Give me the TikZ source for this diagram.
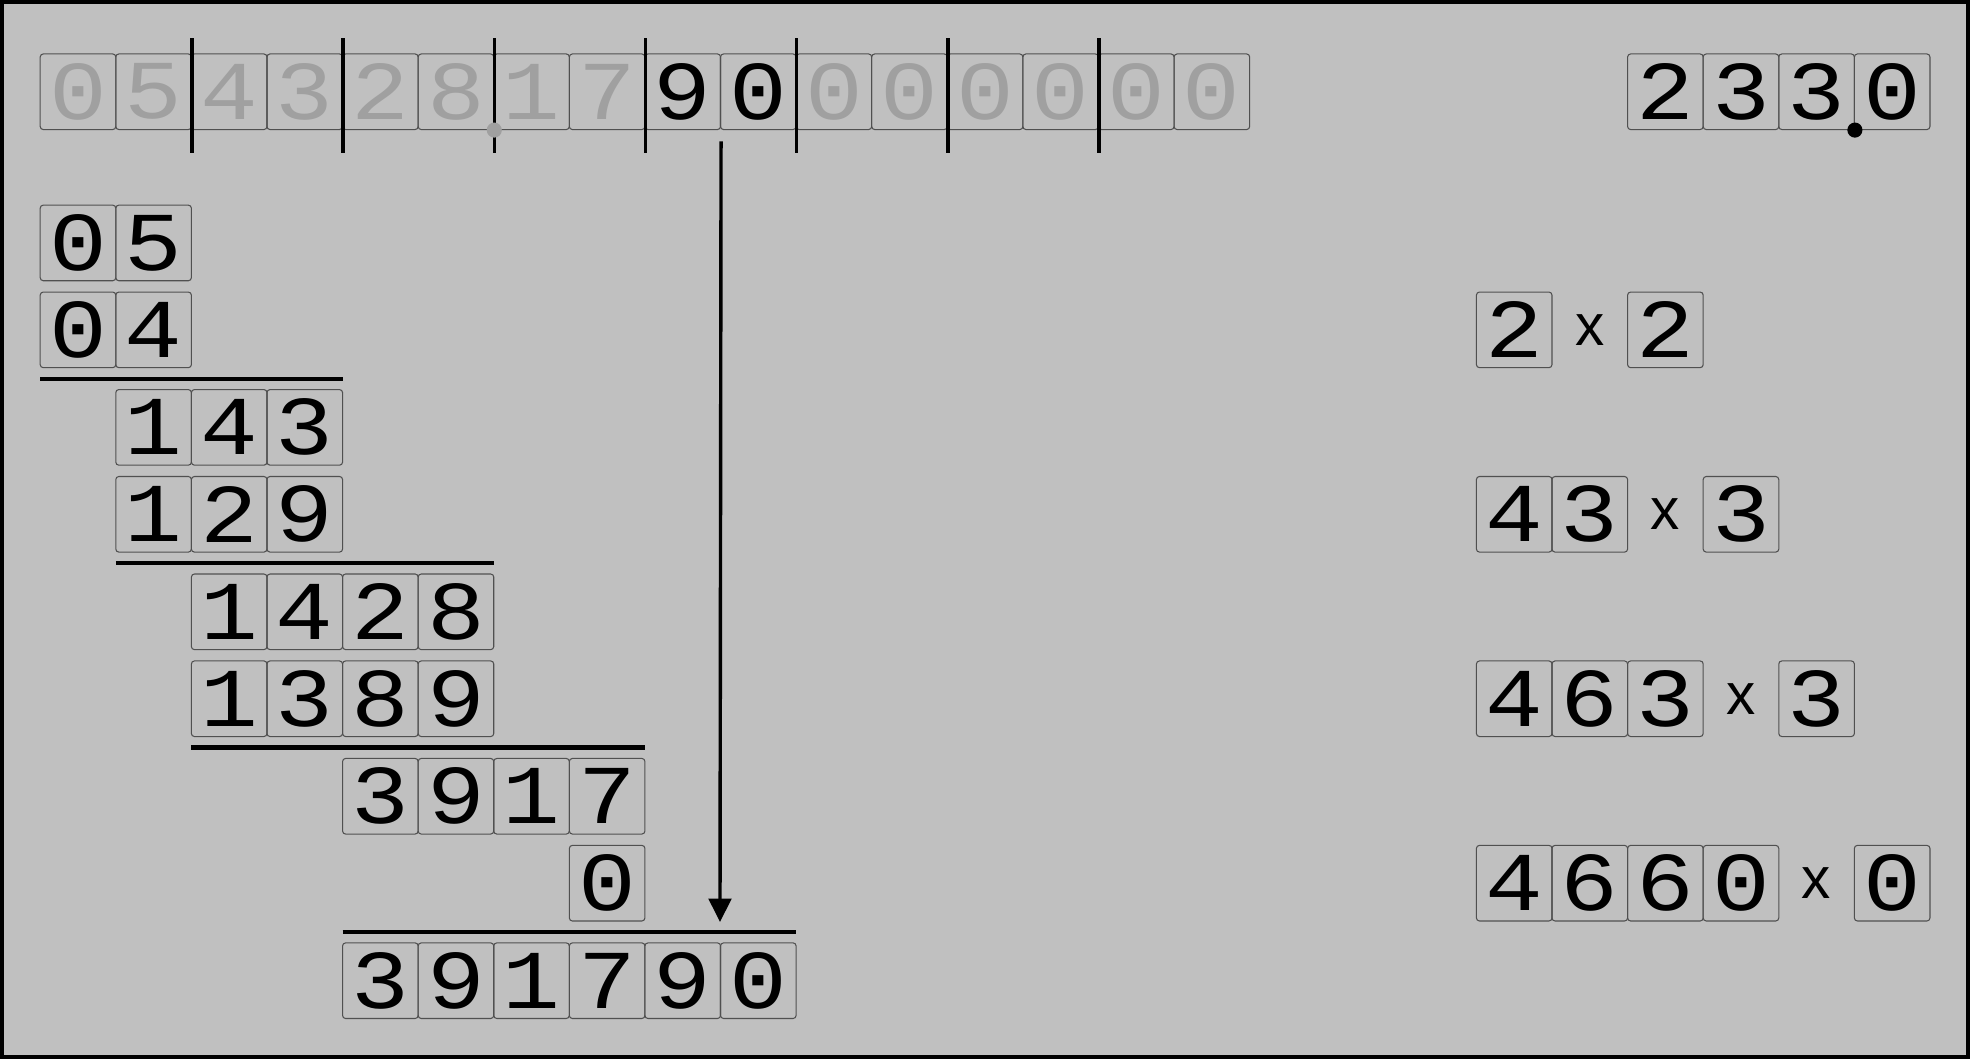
\documentclass[tikz,border=0pt]{standalone}
\usepackage{fontspec}
\usetikzlibrary{arrows.meta}
\newfontfamily\digitfont[FakeStretch=1.15]{Liberation Mono}
\newfontfamily\crossfont{Liberation Sans}
\definecolor{panel}{HTML}{C0C0C0}
\definecolor{faded}{HTML}{A0A0A0}
\definecolor{cellline}{HTML}{505050}
\tikzset{
  cell/.style={draw=cellline, line width=0.4pt, rounded corners=0.04cm,
    minimum width=1cm, minimum height=1cm, inner sep=0pt,
    font=\digitfont\fontsize{31.5}{31.5}\selectfont},
  ghost/.style={cell, text=faded},
  cross/.style={inner sep=0pt, font=\crossfont\fontsize{22}{22}\selectfont},
  barline/.style={line width=0.055cm},
  divider/.style={line width=0.045cm},
}
\begin{document}
\begin{tikzpicture}[x=1cm,y=-1cm]
\useasboundingbox (-0.532,-0.714) rectangle (25.53,13.296);
\draw[line width=0.053cm,fill=panel] (-0.5055,-0.6875) rectangle (25.5035,13.2695);

% number under the root, in pairs
\foreach \d/\s [count=\i from 0] in {0/ghost,5/ghost,4/ghost,3/ghost,2/ghost,8/ghost,1/ghost,7/ghost,
    9/cell,0/cell,0/ghost,0/ghost,0/ghost,0/ghost,0/ghost,0/ghost}
  \node[\s] (t\i) at (\i+0.5,0.5) {\d};
\foreach \i in {1,3,...,13}
  \draw[divider] ([yshift=0.2cm]t\i.north east) -- ([yshift=-0.3cm]t\i.south east);
\fill[faded] (t5.south east) circle (0.1);

% root so far
\foreach \d [count=\i from 21] in {2,3,3,0}
  \node[cell] (q\i) at (\i+0.5,0.5) {\d};
\fill (q23.south east) circle (0.1);

% subtractions
\foreach \d [count=\i from 0] in {0,5} \node[cell] (a\i) at (\i+0.5,2.5) {\d};
\foreach \d [count=\i from 0] in {0,4} \node[cell] (b\i) at (\i+0.5,3.65) {\d};
\coordinate (u1) at (0,4.295); \coordinate (v1) at (4,4.295);
\draw[barline] (u1) -- (v1);

\foreach \d [count=\i from 1] in {1,4,3} \node[cell] (c\i) at (\i+0.5,4.94) {\d};
\foreach \d [count=\i from 1] in {1,2,9} \node[cell] (d\i) at (\i+0.5,6.09) {\d};
\coordinate (u2) at (1,6.735); \coordinate (v2) at (6,6.735);
\draw[barline] (u2) -- (v2);

\foreach \d [count=\i from 2] in {1,4,2,8} \node[cell] (e\i) at (\i+0.5,7.38) {\d};
\foreach \d [count=\i from 2] in {1,3,8,9} \node[cell] (f\i) at (\i+0.5,8.53) {\d};
\coordinate (u3) at (2,9.175); \coordinate (v3) at (8,9.175);
\draw[barline] (u3) -- (v3);

\foreach \d [count=\i from 4] in {3,9,1,7} \node[cell] (g\i) at (\i+0.5,9.82) {\d};
\node[cell] (h7) at (7.5,10.97) {0};
\coordinate (u4) at (4,11.615); \coordinate (v4) at (10,11.615);
\draw[barline] (u4) -- (v4);

\foreach \d [count=\i from 4] in {3,9,1,7,9,0} \node[cell] (r\i) at (\i+0.5,12.26) {\d};

% last pair brought down
\draw[divider,-{Triangle[length=0.31cm,width=0.3cm]}] ([yshift=-0.15cm]t8.south east) -- ([yshift=0.27cm]r9.north west);

% trial products
\node[cell] (m19) at (19.5,3.65) {2};
\node[cross] (x1) at (20.5,3.65) {x};
\node[cell] (n1) at (21.5,3.65) {2};

\foreach \d [count=\i from 19] in {4,3} \node[cell] (o\i) at (\i+0.5,6.09) {\d};
\node[cross] (x2) at (21.5,6.09) {x};
\node[cell] (n2) at (22.5,6.09) {3};

\foreach \d [count=\i from 19] in {4,6,3} \node[cell] (p\i) at (\i+0.5,8.53) {\d};
\node[cross] (x3) at (22.5,8.53) {x};
\node[cell] (n3) at (23.5,8.53) {3};

\foreach \d [count=\i from 19] in {4,6,6,0} \node[cell] (s\i) at (\i+0.5,10.97) {\d};
\node[cross] (x4) at (23.5,10.97) {x};
\node[cell] (n4) at (24.5,10.97) {0};
\end{tikzpicture}
\end{document}
